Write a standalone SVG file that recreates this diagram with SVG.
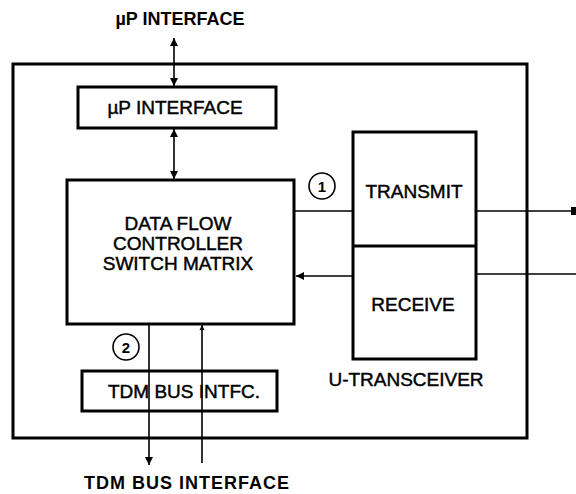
<svg xmlns="http://www.w3.org/2000/svg" width="576" height="494" viewBox="0 0 576 494">
<style>
.box{fill:none;stroke:#000;stroke-width:3}
.ln{fill:none;stroke:#000;stroke-width:1.6}
.lbl{font-family:"Liberation Sans",Arial,sans-serif;font-size:19px;fill:#000;stroke:#000;stroke-width:0.45;text-anchor:middle}
.ext{font-family:"Liberation Sans",Arial,sans-serif;font-size:18px;font-weight:bold;fill:#000;text-anchor:middle}
.num{font-family:"Liberation Sans",Arial,sans-serif;font-size:15px;font-weight:bold;fill:#000;text-anchor:middle}
</style>
<defs>
<marker id="ah" viewBox="0 0 10 10" refX="10" refY="5" markerWidth="5" markerHeight="6" markerUnits="userSpaceOnUse" orient="auto-start-reverse">
<path d="M0,0 L10,5 L0,10 z" fill="#000"/>
</marker>
<marker id="ahb" viewBox="0 0 10 10" refX="10" refY="5" markerWidth="12" markerHeight="8" markerUnits="userSpaceOnUse" orient="auto-start-reverse">
<path d="M0,0 L10,5 L0,10 z" fill="#000"/>
</marker>
</defs>
<rect x="0" y="0" width="576" height="494" fill="#fff"/>
<g id="outer"><rect class="box" x="13" y="64" width="514" height="374"/></g>
<g id="up-interface"><rect class="box" x="78" y="87" width="198" height="41"/><text class="lbl" x="175" y="114">µP INTERFACE</text></g>
<g id="dfc"><rect class="box" x="67" y="180" width="227" height="144"/>
<text class="lbl" x="178" y="230">DATA FLOW</text>
<text class="lbl" x="178" y="250">CONTROLLER</text>
<text class="lbl" x="178" y="270">SWITCH MATRIX</text></g>
<g id="transceiver"><rect class="box" x="353" y="132" width="123" height="227"/>
<line class="box" x1="353" y1="246" x2="476" y2="246"/>
<text class="lbl" x="414" y="198">TRANSMIT</text>
<text class="lbl" x="413" y="311">RECEIVE</text>
<text class="lbl" x="406" y="386">U-TRANSCEIVER</text></g>
<g id="tdm"><rect class="box" x="82" y="371" width="195" height="40"/><text class="lbl" x="184" y="398">TDM BUS INTFC.</text></g>
<g id="labels">
<text class="ext" x="180" y="25">µP INTERFACE</text>
<text class="ext" x="187" y="489" letter-spacing="1">TDM BUS INTERFACE</text>
</g>
<g id="markers-num">
<circle cx="322" cy="186" r="13" fill="none" stroke="#000" stroke-width="1.6"/><text class="num" x="322" y="191.5">1</text>
<circle cx="126" cy="347" r="13" fill="none" stroke="#000" stroke-width="1.6"/><text class="num" x="126" y="352.5">2</text>
</g>
<g id="connectors">
<line class="ln" x1="174" y1="38" x2="174" y2="86" marker-start="url(#ahb)" marker-end="url(#ahb)"/>
<line class="ln" x1="174" y1="129" x2="174" y2="179" marker-start="url(#ahb)" marker-end="url(#ahb)"/>
<line class="ln" x1="295" y1="211" x2="353" y2="211"/>
<line class="ln" x1="476" y1="211" x2="571" y2="211"/>
<rect x="571" y="207" width="5" height="8" fill="#000"/>
<line class="ln" x1="576" y1="274" x2="476" y2="274"/>
<line class="ln" x1="353" y1="276" x2="296" y2="276" marker-end="url(#ahb)"/>
<line class="ln" x1="149" y1="325" x2="149" y2="465" marker-end="url(#ahb)"/>
<line class="ln" x1="202" y1="463" x2="202" y2="325" marker-end="url(#ah)"/>
</g>
</svg>
